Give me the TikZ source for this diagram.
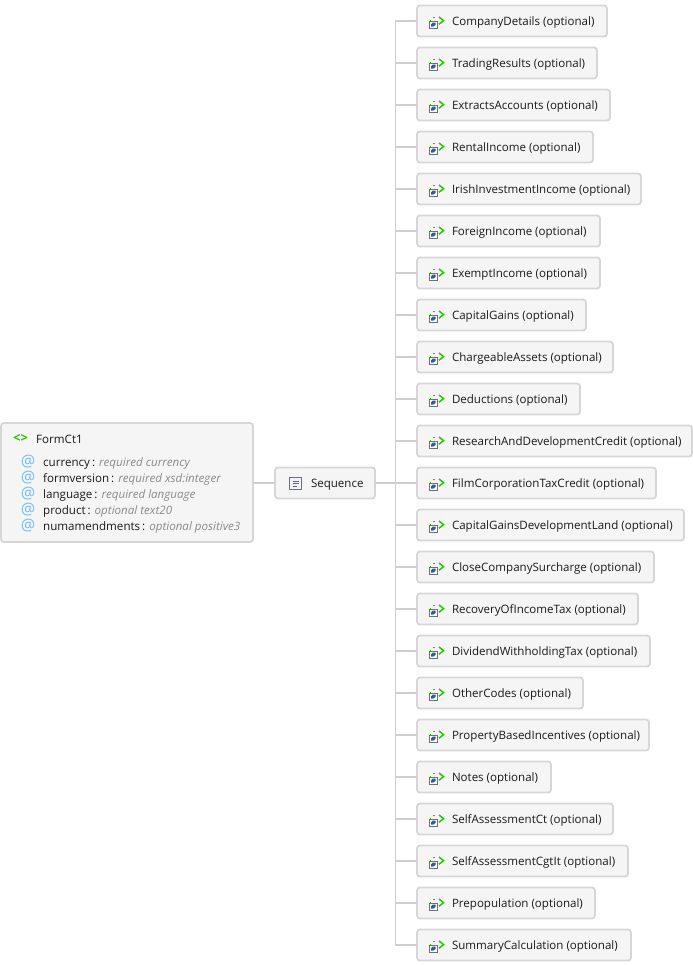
\documentclass[tikz,border=0pt]{standalone}
\usepackage{fontspec}
\setmainfont{Open Sans}
\definecolor{boxfill}{HTML}{F5F5F5}
\definecolor{boxline}{HTML}{D6D6D6}
\definecolor{wire}{HTML}{CFCFCF}
\definecolor{txt}{HTML}{1A1A1A}
\definecolor{typegray}{HTML}{8A8A8A}
\definecolor{tagreen}{HTML}{22CC00}
\definecolor{atblue}{HTML}{6FBDF7}
\definecolor{refblue}{HTML}{2A5CA8}
\definecolor{refedge}{HTML}{6E7078}
\tikzset{
  panel/.style={draw=boxline,line width=1.8pt,fill=boxfill,rounded corners=3pt,inner xsep=0pt,inner ysep=0pt,outer sep=0pt,text=txt,font=\fontsize{11.55}{13}\selectfont},
  rowbox/.style={panel,minimum height=31pt,anchor=west},
  wireline/.style={draw=wire,line width=1.6pt},
  attr/.style={anchor=base west,inner sep=0pt,text=txt,font=\fontsize{11.6}{13}\selectfont},
  atsign/.style={inner sep=0pt,text=atblue,font=\fontsize{16}{16}\selectfont},
  tag/.style={inner sep=0pt,text=tagreen,font=\fontsize{13}{13}\selectfont\bfseries},
  refmark/.pic={
    \draw[tagreen,line width=1.5pt] (9.5,-4) -- (14,-.4) -- (9.5,3.2);
    \draw[tagreen,line width=.9pt] (3.5,-3.6) -- (5.5,-3.6) (.6,-1) -- (1.8,-1);
    \draw[refedge,fill=white,line width=.9pt] (0,0) rectangle (7.5,7.5);
    \fill[refblue] (1.6,5.6) -- (1.6,3.4) -- (3.2,1.6) -- (6,1.6) -- (6,4) -- (3.8,5.6) -- cycle;
  },
  seqmark/.pic={
    \draw[refedge,fill=blue!5,line width=.9pt] (0,0) rectangle (12,12);
    \draw[black!60,line width=.8pt] (3,3.5) -- (9,3.5) (3,6) -- (9,6) (3,8.5) -- (7,8.5);
  }
}
\newcommand{\attrtype}[1]{{\color{typegray}\itshape #1}}
\newcommand{\shifted}[2]{\raisebox{#1}[0pt][0pt]{#2}}
\begin{document}
\begin{tikzpicture}[x=1pt,y=-1pt]
\useasboundingbox (0,0) rectangle (693,966);
\node[panel,anchor=north west,minimum width=252pt,minimum height=119pt] (root) at (1,423) {};
\node[tag] (rootmark) at (20.5,438.5) {<>};
\node[attr] (rootname) at (36,443.5) {FormCt1};
\foreach \yy/\nm/\ty [count=\k] in {466/currency/required currency,482/formversion/required xsd:integer,498/language/required language,514/product/optional text20,530/numamendments/optional positive3}{
  \node[atsign] (at\k) at (28,\yy-4.5) {@};
  \node[attr] (att\k) at (43,\yy) {\nm\,: \attrtype{\ty}};
}
\node[rowbox,minimum width=100pt] (seq) at (275,483) {\makebox[100pt][l]{\hspace{36pt}\shifted{-4.2pt}{Sequence}}};
\pic at (289.5,477.5) {seqmark};
\draw[wireline] (root.east |- seq.west) -- (seq.west);
\foreach \nm/\rgt [count=\k from 0] in {
  CompanyDetails/607,TradingResults/597,ExtractsAccounts/610,RentalIncome/593,
  IrishInvestmentIncome/641,ForeignIncome/600,ExemptIncome/600,CapitalGains/586,
  ChargeableAssets/613,Deductions/580,ResearchAndDevelopmentCredit/692,
  FilmCorporationTaxCredit/656,CapitalGainsDevelopmentLand/684,
  CloseCompanySurcharge/654,RecoveryOfIncomeTax/638,DividendWithholdingTax/650,
  OtherCodes/583,PropertyBasedIncentives/649,Notes/551,SelfAssessmentCt/613,
  SelfAssessmentCgtIt/628,Prepopulation/595,SummaryCalculation/631}{
  \pgfmathsetmacro{\w}{\rgt-417}
  \pgfmathsetmacro{\yy}{21+42*\k}
  \node[rowbox,minimum width=\w pt] (row\k) at (417,\yy) {\makebox[\w pt][l]{\hspace{35pt}\shifted{-4.2pt}{\nm{} (optional)}}};
  \pic at (429.5,\yy) {refmark};
  \draw[wireline] (seq.east) -- ++(20.5,0) |- (row\k.west);
}
\end{tikzpicture}
\end{document}
